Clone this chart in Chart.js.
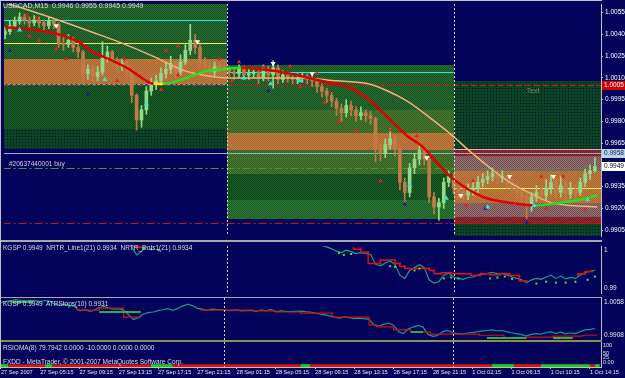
<!DOCTYPE html>
<html><head><meta charset="utf-8">
<script src="https://cdn.jsdelivr.net/npm/chart.js@4.4.1/dist/chart.umd.min.js"></script>
<style>
html,body{margin:0;padding:0;background:#03035c;width:625px;height:378px;overflow:hidden;position:relative;}
canvas{position:absolute;left:0;display:block;}
.t{position:absolute;font-family:'Liberation Sans',Arial,sans-serif;font-size:6.5px;line-height:8px;color:#dcdcdc;white-space:pre;z-index:6;}
.ln{position:absolute;z-index:5;}
</style></head><body>
<canvas id="c1" width="625" height="240" style="top:0px"></canvas>
<canvas id="c2" width="625" height="55" style="top:242px"></canvas>
<canvas id="c3" width="625" height="42" style="top:298px"></canvas>
<canvas id="c4" width="625" height="36" style="top:342px"></canvas>
<div class="ln" style="left:0;top:0;width:602px;height:1px;background:#c8c8c8"></div>
<div class="ln" style="left:0;top:240px;width:602px;height:2px;background:#a8a8a8"></div>
<div class="ln" style="left:0;top:297px;width:602px;height:1px;background:#a8a8a8"></div>
<div class="ln" style="left:0;top:340px;width:602px;height:2px;background:#8e8e50"></div>
<div class="ln" style="left:0;top:0;width:1px;height:367px;background:#c0c0c0"></div>
<div class="t" style="left:3px;top:2px;font-size:7px">USDCAD,M15  0.9946 0.9955 0.9945 0.9949</div>
<div class="t" style="left:3px;top:244px">KGSP 0.9949  NRTR_Line1(21) 0.9934  NRTR_Dots1(21) 0.9934</div>
<div class="t" style="left:3px;top:300px">KGSP 0.9949  ATRStops(10) 0.9931</div>
<div class="t" style="left:3px;top:344px">RSIOMA(8) 79.7942 0.0000 -10.0000 0.0000 0.0000</div>
<div class="t" style="left:3px;top:358px">FXDD - MetaTrader, © 2001-2007 MetaQuotes Software Corp.</div>
<script>
// ---------- axis labels ----------
const xTickBars = [0,16,32,48,64,80,96,112,128,144,160,176,192,208,224,240];
const xTickLabels = ["27 Sep 2007","27 Sep 05:15","27 Sep 09:15","27 Sep 13:15","27 Sep 17:15","27 Sep 21:15",
  "28 Sep 01:15","28 Sep 05:15","28 Sep 09:15","28 Sep 13:15","28 Sep 17:15","28 Sep 21:15",
  "1 Oct 02:15","1 Oct 06:15","1 Oct 10:15","1 Oct 14:15"];
const priceTicks = [1.0055,1.0040,1.0025,1.0010,0.9995,0.9980,0.9965,0.9950,0.9935,0.9920,0.9905];

// ---------- USDCAD price (one candle per 2 M15 bars) ----------
const opens = [1.0040,1.0042,1.0046,1.0049,1.0052,1.0050,1.0048,1.0050,1.0048,1.0046,
1.0049,1.0047,1.0034,1.0033,1.0036,1.0031,1.0028,1.0013,1.0016,1.0011,
1.0014,1.0024,1.0028,1.0021,1.0018,1.0020,1.0014,0.9998,0.9981,0.9988,
1.0001,1.0006,1.0008,1.0013,1.0016,1.0020,1.0014,1.0021,1.0029,1.0036,
1.0031,1.0021,1.0018,1.0014,1.0018,1.0017,1.0016,1.0014,1.0013,1.0016,
1.0012,1.0013,1.0014,1.0010,1.0016,1.0012,1.0017,1.0009,1.0012,1.0010,
1.0009,1.0010,1.0011,1.0009,1.0008,1.0004,1.0001,0.9998,0.9994,0.9989,
0.9986,0.9991,0.9988,0.9984,0.9986,0.9984,0.9982,0.9961,0.9958,0.9964,
0.9968,0.9961,0.9938,0.9931,0.9948,0.9954,0.9960,0.9954,0.9928,0.9921,
0.9924,0.9938,0.9942,0.9934,0.9931,0.9929,0.9933,0.9934,0.9938,0.9940,
0.9942,0.9944,0.9941,0.9942,0.9938,0.9934,0.9931,0.9928,0.9922,0.9928,
0.9931,0.9929,0.9934,0.9938,0.9931,0.9936,0.9930,0.9933,0.9931,0.9938,
0.9944,0.9946];
const closes = [1.0042,1.0046,1.0049,1.0052,1.0050,1.0048,1.0050,1.0048,1.0046,1.0049,
1.0047,1.0034,1.0033,1.0036,1.0031,1.0028,1.0013,1.0016,1.0011,1.0014,
1.0024,1.0028,1.0021,1.0018,1.0020,1.0014,0.9998,0.9981,0.9988,1.0001,
1.0006,1.0008,1.0013,1.0016,1.0020,1.0014,1.0021,1.0029,1.0036,1.0031,
1.0021,1.0018,1.0014,1.0018,1.0017,1.0016,1.0014,1.0013,1.0016,1.0012,
1.0013,1.0014,1.0010,1.0016,1.0012,1.0017,1.0009,1.0012,1.0010,1.0009,
1.0010,1.0011,1.0009,1.0008,1.0004,1.0001,0.9998,0.9994,0.9989,0.9986,
0.9991,0.9988,0.9984,0.9986,0.9984,0.9982,0.9961,0.9958,0.9964,0.9968,
0.9961,0.9938,0.9931,0.9948,0.9954,0.9960,0.9954,0.9928,0.9921,0.9924,
0.9938,0.9942,0.9934,0.9931,0.9929,0.9933,0.9934,0.9938,0.9940,0.9942,
0.9944,0.9941,0.9942,0.9938,0.9934,0.9931,0.9928,0.9922,0.9928,0.9931,
0.9929,0.9934,0.9938,0.9931,0.9936,0.9930,0.9933,0.9931,0.9938,0.9944,
0.9946,0.9949];
const highs = [1.0045,1.0049,1.0052,1.0055,1.0054,1.0052,1.0053,1.0052,1.0050,1.0052,
1.0051,1.0048,1.0038,1.0040,1.0038,1.0033,1.0029,1.0019,1.0018,1.0018,
1.0035,1.0032,1.0029,1.0024,1.0023,1.0022,1.0016,0.9999,0.9991,1.0004,
1.0010,1.0012,1.0017,1.0020,1.0025,1.0022,1.0026,1.0033,1.0047,1.0040,
1.0033,1.0024,1.0020,1.0021,1.0020,1.0019,1.0018,1.0017,1.0019,1.0018,
1.0016,1.0017,1.0016,1.0019,1.0018,1.0022,1.0019,1.0015,1.0014,1.0013,
1.0013,1.0014,1.0013,1.0012,1.0010,1.0006,1.0003,1.0000,0.9996,0.9992,
0.9995,0.9994,0.9990,0.9990,0.9988,0.9987,0.9983,0.9965,0.9968,0.9975,
0.9970,0.9963,0.9941,0.9951,0.9958,0.9963,0.9962,0.9956,0.9931,0.9927,
0.9941,0.9946,0.9944,0.9937,0.9934,0.9937,0.9938,0.9942,0.9944,0.9946,
0.9948,0.9946,0.9946,0.9944,0.9940,0.9937,0.9933,0.9930,0.9931,0.9936,
0.9934,0.9940,0.9943,0.9940,0.9942,0.9939,0.9938,0.9936,0.9941,0.9947,
0.9950,0.9955];
const lows = [1.0037,1.0040,1.0044,1.0047,1.0047,1.0045,1.0046,1.0045,1.0043,1.0044,
1.0044,1.0031,1.0029,1.0031,1.0028,1.0024,1.0006,1.0009,1.0007,1.0008,
1.0012,1.0021,1.0018,1.0014,1.0015,1.0010,0.9993,0.9974,0.9976,0.9985,
0.9998,1.0002,1.0005,1.0010,1.0013,1.0010,1.0012,1.0019,1.0026,1.0027,
1.0017,1.0014,1.0010,1.0011,1.0013,1.0012,1.0011,1.0009,1.0010,1.0009,
1.0009,1.0010,1.0006,1.0008,1.0008,1.0003,1.0006,1.0007,1.0007,1.0006,
1.0006,1.0007,1.0006,1.0004,1.0000,0.9997,0.9993,0.9990,0.9984,0.9980,
0.9983,0.9984,0.9980,0.9981,0.9980,0.9978,0.9952,0.9953,0.9955,0.9961,
0.9956,0.9933,0.9923,0.9928,0.9944,0.9950,0.9950,0.9924,0.9916,0.9912,
0.9920,0.9935,0.9930,0.9926,0.9925,0.9926,0.9929,0.9931,0.9935,0.9937,
0.9939,0.9937,0.9938,0.9934,0.9930,0.9927,0.9923,0.9913,0.9918,0.9925,
0.9925,0.9926,0.9930,0.9927,0.9928,0.9926,0.9927,0.9927,0.9929,0.9935,
0.9940,0.9945];

// ---------- moving averages (bar index, price) ----------
const maFastBars = [0,8,16,20,24,30,36,44,51,57,61,65,73,81,89,97,105,114,122,135,142,150,157,165,171,176,182,196,207,217,228,236,243];
const maFastVals = [1.0045,1.0044,1.0042,1.0041,1.0039,1.0035,1.0028,1.0022,1.0016,1.0009,1.0006,1.0006,1.0009,1.0014,1.0016,1.0017,1.0016,1.0014,1.0011,1.0006,1.0003,0.9994,0.9983,0.9970,0.9963,0.9954,0.9943,0.9928,0.9924,0.9922,0.9924,0.9926,0.9929];
const maSlowBars = [0,20,40,48,62,72,81,92,105,122,136,149,157,165,174,183,191,199,207,216,224,232,243];
const maSlowVals = [1.0062,1.0051,1.0039,1.0034,1.0024,1.0016,1.0012,1.0010,1.0010,1.0010,1.0008,1.0006,1.0001,0.9994,0.9983,0.9971,0.9959,0.9948,0.9938,0.9930,0.9924,0.9922,0.9921];

// ---------- signal marks ----------
const redMarkBars = [9,13,10,14,21,25,46,49,66,71,71,64,88,96,93,106,117,121,128,131,137,144,158,154,169,192,189,209,220,222,229,238];
const redMarkVals = [1.0053,1.0051,1.0039,1.0036,1.0030,1.0023,1.0008,1.0023,1.0029,1.0032,1.0012,1.0002,1.0023,1.0021,1.0008,1.0017,1.0018,1.0004,1.0013,0.9993,0.9980,0.9974,0.9974,0.9939,0.9970,0.9939,0.9922,0.9923,0.9942,0.9920,0.9942,0.9919];
const whiteMarkBars = [21,79,110,126,173,187,207,225];
const whiteMarkVals = [1.0046,1.0035,1.0020,1.0013,0.9955,0.9929,0.9942,0.9942];
const cyanMarkBars = [6,41,58,98,109,121,166,181,198,217,239];
const cyanMarkVals = [1.0043,1.0009,0.9992,1.0010,1.0006,1.0008,0.9936,0.9927,0.9921,0.9922,0.9926];
const navyMarkBars = [2,34,108,164,214,197];
const navyMarkVals = [1.0029,0.9999,1.0001,0.9923,0.9910,0.9920];

// ---------- zones and levels ----------
const zoneFrom   = [-1,-1,-1,-1, 91,91,91,91,91,91, 184,184,184,184,184,184,184];
const zoneTo     = [91,91,91,91, 184,184,184,184,184,184, 246,246,246,246,246,246,246];
const zoneTop    = [1.0062,1.0023,1.0006,0.9975, 1.0019,0.9988,0.9972,0.9960,0.9944,0.9926, 1.0008,0.9961,0.9956,0.9946,0.9924,0.9914,0.9909];
const zoneBottom = [1.0023,1.0006,0.9975,0.9961, 0.9988,0.9972,0.9960,0.9944,0.9926,0.9913, 0.9961,0.9956,0.9946,0.9924,0.9914,0.9909,0.9900];
const zoneKind   = ['green','orange','dkgreen','dotted','green','olive','orange','olive','dkgreen','green2','dotted','reddot','pink','orange','pink','reddot','dotted'];
const levelValues = [1.0050,1.0034,1.0006,1.0014,0.9961,0.9934,1.0005,0.9958,0.99477,0.9910];
const levelFrom   = [-1,-1,-1,91,184,184,-1,-1,-1,-1];
const levelTo     = [91,91,91,184,246,246,246,246,246,246];
const levelKind   = ['cyan','yellow','cyanDash','cyan','pink','yellow','redDash','steel','buy','stop'];
const separatorBars = [91,184];
const boxValues = [1.0005,0.9958,0.9949];

// ---------- sub windows ----------
const nrtrRedBars = [53,55,57,100,143,146,149,152,154,160,162,164,174,176,179,183,187,191,195,199,203,207,211,214,225,235,238,241];
const nrtrRedVals = [0.9998,0.9998,0.9997,null,0.9996,0.9993,0.9987,0.9963,0.9963,0.9970,0.9963,0.9957,0.9952,0.9948,0.9941,0.9943,0.9941,0.9941,0.9937,0.9941,0.9939,0.9941,0.9937,0.9926,null,0.9937,0.9941,0.9946];
const nrtrGreenBars = [57,60,63,137,139,142,158,160,168,170,180,183,186,199,202,205,208,218,222,226,230,234,239,242];
const nrtrGreenVals = [0.9996,0.9993,0.9991,0.9985,0.9981,0.9983,0.9957,0.9956,0.9948,0.9952,0.9931,0.9933,0.9931,0.9931,0.9933,0.9935,0.9930,0.9920,0.9924,0.9922,0.9922,0.9924,0.9928,0.9935];
const atrRedBars = [31,40,50,56,68,81,92,103,112,122,135,150,153,160,167,175,183,195,205,214,225,237,243];
const atrRedVals = [1.0022,1.0015,1.0022,0.9990,null,1.0015,1.0015,1.0015,1.0012,1.0008,1.0004,0.9990,0.9962,0.9955,0.9944,0.9936,0.9929,0.9929,0.9925,0.9915,0.9918,0.9922,0.9925];
const atrGreenBars = [4,13,26,40,57,110,167,172,190,198,214,220,225,233];
const atrGreenVals = [1.0044,1.0044,null,1.0008,1.0008,null,0.9937,0.9937,null,0.9915,0.9915,null,0.9915,0.9915];
const rsiTrendFrom = [0,3,18,21,61,70,122,126,200,209,220,240,242];
const rsiTrendTo   = [3,18,21,61,70,122,126,200,209,220,240,242,244];
const rsiTrendDir  = [1,-1,1,-1,1,-1,1,-1,1,-1,1,-1,1];
const subMaxLabels = ['1','1.0058'];
const subMinLabels = ['0.99','0.9908'];
const rsiTicks = [100,50,25,0];
const rsiTickLabels = ['100','50','25','0.00'];

// ================= rendering =================
const FONT = "'Liberation Sans', Arial, sans-serif";
Chart.defaults.font.family = FONT;
const UP = '#94d88a', DOWN = '#c27a48';
const zoneStyles = {green:['#2a7034','#164e20'], orange:['#c27c42','#a9672f'], dkgreen:['#1a5e28','#0d4419'],
  dotted:['#0d4420','#06065c','dot'], olive:['#4c7c2e','#2e5c22'], green2:['#2c7c34','#1a5a24'],
  pink:['#9c7272','#6c4e50'], reddot:['#a62a32','#681a26']};
const levelStyles = {cyan:['#33e6e0',[]], yellow:['#f0f050',[]], cyanDash:['#30c8c8',[3,2]], pink:['#e8b0b0',[]],
  redDash:['#e01010',[6,3]], steel:['#9ab0c8',[]], buy:['#3c9c3c',[8,3,2,3]], stop:['#c01818',[8,3,2,3]]};
const boxStyles = [['#d40000','#ffffff'],['#b8d8ec','#202040'],['#ffffff','#000000']];

const candleBars = closes.map((_, i) => i * 2);
const pts = (bars, vals) => bars.map((b, i) => ({x: b, y: vals[i]}));
const candleColors = closes.map((c, i) => c >= opens[i] ? UP : DOWN);

function pattern(ctx, kind){
  const s = zoneStyles[kind];
  const c = document.createElement('canvas');
  const g = c.getContext('2d');
  if (s[2] === 'dot') {
    c.width = 3; c.height = 3; g.fillStyle = s[0]; g.fillRect(0,0,3,3);
    g.fillStyle = s[1]; g.fillRect(1,1,1,1);
  } else {
    c.width = 2; c.height = 2; g.fillStyle = s[0]; g.fillRect(0,0,2,2);
    g.fillStyle = s[1]; g.fillRect(0,0,1,1); g.fillRect(1,1,1,1);
  }
  return ctx.createPattern(c, 'repeat');
}
const xScale = (show) => ({type:'linear', min:-0.4, max:244.5, offset:false, display:show,
  afterBuildTicks: s => { s.ticks = xTickBars.map(v => ({value:v})); },
  afterFit: s => { s.paddingLeft = 0; s.paddingRight = 0; if (show) s.height = 11; },
  ticks:{autoSkip:false, maxRotation:0, align:'start', padding:0, color:'#e8e8e8',
    font:{size:5.6}, callback:(v, i) => xTickLabels[i]},
  grid:{drawOnChartArea:false, tickLength:2, color:'#c0c0c0'}, border:{display:show, color:'#c0c0c0'}});
const yFit = s => { s.width = 24; s.paddingTop = 0; s.paddingBottom = 0; };

function drawSeparators(chart){
  const {ctx, chartArea:a, scales:{x}} = chart;
  ctx.save(); ctx.strokeStyle = '#d0d0d0'; ctx.lineWidth = 1; ctx.setLineDash([2,2]);
  separatorBars.forEach(b => { const px = Math.round(x.getPixelForValue(b)) + 0.5;
    ctx.beginPath(); ctx.moveTo(px, a.top); ctx.lineTo(px, a.bottom); ctx.stroke(); });
  ctx.restore();
}

const mainDecor = {
  id:'mainDecor',
  beforeDatasetsDraw(chart){
    const {ctx, chartArea:a, scales:{x, y}} = chart;
    ctx.save(); ctx.beginPath(); ctx.rect(a.left, a.top, a.width, a.height); ctx.clip();
    zoneKind.forEach((k, i) => {
      const x0 = x.getPixelForValue(zoneFrom[i]), x1 = x.getPixelForValue(zoneTo[i]);
      const y0 = Math.round(y.getPixelForValue(zoneTop[i])), y1 = Math.round(y.getPixelForValue(zoneBottom[i]));
      ctx.fillStyle = pattern(ctx, k);
      ctx.fillRect(Math.round(x0), y0, Math.round(x1) - Math.round(x0), y1 - y0);
    });
    levelKind.forEach((k, i) => {
      const st = levelStyles[k];
      const py = Math.round(y.getPixelForValue(levelValues[i])) + 0.5;
      ctx.strokeStyle = st[0]; ctx.lineWidth = 1; ctx.setLineDash(st[1]);
      ctx.beginPath(); ctx.moveTo(x.getPixelForValue(levelFrom[i]), py); ctx.lineTo(x.getPixelForValue(levelTo[i]), py); ctx.stroke();
    });
    ctx.restore();
  },
  afterDatasetsDraw(chart){
    const {ctx, chartArea:a, scales:{x, y}} = chart;
    drawSeparators(chart);
    ctx.save();
    ctx.font = '6.5px ' + FONT; ctx.textBaseline = 'bottom'; ctx.fillStyle = '#d0d0d0';
    ctx.fillText('#20637440001 buy', a.left + 5, y.getPixelForValue(levelValues[8]) - 1);
    ctx.font = '7px ' + FONT; ctx.textBaseline = 'middle'; ctx.fillStyle = '#6c8a6c';
    ctx.fillText('Text', x.getPixelForValue(214), y.getPixelForValue(1.0001));
    ctx.restore();
  },
  afterDraw(chart){
    const {ctx, chartArea:a, scales:{y}} = chart;
    ctx.save(); ctx.font = '6.5px ' + FONT; ctx.textBaseline = 'middle';
    boxValues.forEach((v, i) => {
      const py = Math.round(y.getPixelForValue(v));
      ctx.fillStyle = boxStyles[i][0]; ctx.fillRect(a.right + 1, py - 4, 23, 9);
      ctx.fillStyle = boxStyles[i][1]; ctx.fillText(v.toFixed(4), a.right + 3, py + 0.5);
    });
    ctx.restore();
  }
};

function subDecor(idx){
  return { id:'subDecor' + idx,
    afterDatasetsDraw(chart){ drawSeparators(chart); },
    afterDraw(chart){
      if (idx < 0) return;
      const {ctx, chartArea:a} = chart;
      ctx.save(); ctx.font = '6.5px ' + FONT; ctx.fillStyle = '#e8e8e8'; ctx.textBaseline = 'middle';
      ctx.fillText(subMaxLabels[idx], a.right + 3, a.top + 4);
      ctx.fillText(subMinLabels[idx], a.right + 3, a.bottom - 5);
      ctx.restore();
    }};
}

const baseOpts = {responsive:false, animation:false, devicePixelRatio:1, layout:{padding:0},
  plugins:{legend:{display:false}, tooltip:{enabled:false}}};
const markSet = (bars, vals, color, rot, r) => ({type:'line', data:pts(bars, vals), showLine:false,
  pointStyle:'triangle', pointRadius:r, pointRotation:rot, pointBackgroundColor:color, pointBorderWidth:0, order:1});

// main window
new Chart(document.getElementById('c1'), {
  type:'bar',
  data:{datasets:[
    {type:'bar', data:candleBars.map((b, i) => ({x:b, y:[lows[i], highs[i]]})), backgroundColor:candleColors, barThickness:1, grouped:false, order:6},
    {type:'bar', data:candleBars.map((b, i) => ({x:b, y:[opens[i], closes[i]]})), backgroundColor:candleColors, barThickness:3, minBarLength:1, grouped:false, order:5},
    {type:'line', data:pts(maSlowBars, maSlowVals), borderColor:'#f2b27a', borderWidth:1.5, pointRadius:0, cubicInterpolationMode:'monotone', order:4},
    {type:'line', data:pts(maFastBars, maFastVals), borderColor:'#e00000', borderWidth:2.5, pointRadius:0, cubicInterpolationMode:'monotone', order:3,
      segment:{borderColor: c => { const d = c.p1.parsed.y - c.p0.parsed.y; return d > 0.00005 ? '#22e022' : (d < -0.00005 ? '#e00000' : '#e8e820'); }}},
    markSet(redMarkBars, redMarkVals, '#e82020', 0, 2.5),
    markSet(whiteMarkBars, whiteMarkVals, '#ffffff', 180, 3),
    markSet(cyanMarkBars, cyanMarkVals, '#40e0d0', 0, 3),
    markSet(navyMarkBars, navyMarkVals, '#1a1aa0', 0, 2.5)
  ]},
  options:{...baseOpts, scales:{
    x:xScale(false),
    y:{position:'right', min:0.9901, max:1.0061, afterFit:yFit,
      afterBuildTicks: s => { s.ticks = priceTicks.map(v => ({value:v})); },
      ticks:{color:'#ffffff', font:{size:6.5}, padding:2, autoSkip:false, callback:v => v.toFixed(4)},
      grid:{drawOnChartArea:false, tickLength:2, color:'#c0c0c0'}, border:{color:'#c0c0c0'}}
  }},
  plugins:[mainDecor]
});

const subY = (min, max) => ({position:'right', min, max, afterFit:yFit, ticks:{display:false},
  grid:{display:false}, border:{display:true, color:'#c0c0c0'}});

// NRTR window
new Chart(document.getElementById('c2'), {
  type:'line',
  data:{datasets:[
    {data:pts(candleBars, closes), borderColor:'#1fa07a', borderWidth:1.2, pointRadius:0, order:3},
    {data:pts(nrtrRedBars, nrtrRedVals), borderColor:'#e01010', borderWidth:1.5, stepped:'after', pointStyle:'rect', pointRadius:1.3, pointBackgroundColor:'#e01010', pointBorderWidth:0, order:2},
    {data:pts(nrtrGreenBars, nrtrGreenVals), showLine:false, pointStyle:'rect', pointRadius:1.4, pointBackgroundColor:'#38f038', pointBorderWidth:0, order:1}
  ]},
  options:{...baseOpts, scales:{x:xScale(false), y:subY(0.99, 1.0)}},
  plugins:[subDecor(0)]
});

// ATR stops window
new Chart(document.getElementById('c3'), {
  type:'line',
  data:{datasets:[
    {data:pts(candleBars, closes), borderColor:'#1a9a80', borderWidth:1.2, pointRadius:0, order:3},
    {data:pts(atrRedBars, atrRedVals), borderColor:'#d01010', borderWidth:1.2, pointRadius:0, stepped:'after', order:2},
    {data:pts(atrGreenBars, atrGreenVals), borderColor:'#28b040', borderWidth:2, pointRadius:0, order:1}
  ]},
  options:{...baseOpts, scales:{x:xScale(false), y:subY(0.9908, 1.0058)}},
  plugins:[subDecor(1)]
});

// RSIOMA window
const stripPts = rsiTrendFrom.map(b => ({x:b, y:-21})).concat([{x:rsiTrendTo[rsiTrendTo.length - 1], y:-21}]);
new Chart(document.getElementById('c4'), {
  type:'line',
  data:{datasets:[
    {data:stripPts, borderWidth:3, pointRadius:0, borderColor:'#e01010',
      segment:{borderColor: c => rsiTrendDir[c.p0DataIndex] > 0 ? '#18d018' : '#e01010'}}
  ]},
  options:{...baseOpts, scales:{
    x:xScale(true),
    y:{position:'right', min:-29, max:118, afterFit:yFit,
      afterBuildTicks: s => { s.ticks = rsiTicks.map(v => ({value:v})); },
      ticks:{color:'#e8e8e8', font:{size:5.5}, padding:1, autoSkip:false, callback:(v, i) => rsiTickLabels[i]},
      grid:{drawOnChartArea:false, tickLength:1, color:'#c0c0c0'}, border:{color:'#c0c0c0'}}
  }},
  plugins:[subDecor(-1)]
});
</script>
</body></html>
